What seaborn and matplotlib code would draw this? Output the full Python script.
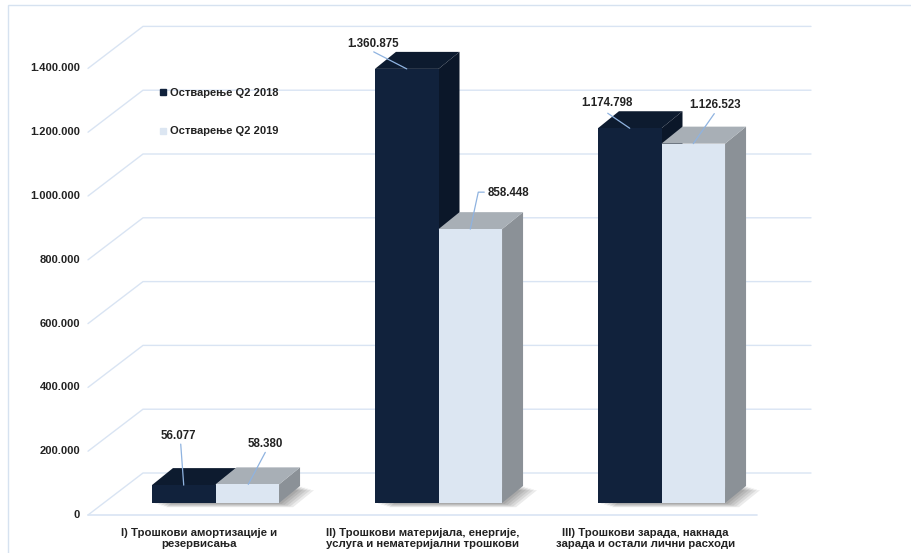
import pandas as pd
import matplotlib
matplotlib.use("Agg")
import matplotlib.pyplot as plt
import seaborn as sns
from matplotlib.patches import Polygon, Rectangle
from matplotlib.lines import Line2D

categories = [
    "I) Трошкови амортизације и\nрезервисања",
    "II) Трошкови материјала, енергије,\nуслуга и нематеријални трошкови",
    "III) Трошкови зарада, накнада\nзарада и остали лични расходи",
]
series = ["Остварење Q2 2018", "Остварење Q2 2019"]
q2_2018 = [56077, 1360875, 1174798]
q2_2019 = [58380, 858448, 1126523]
tick_values = [0, 200000, 400000, 600000, 800000, 1000000, 1200000, 1400000]
tick_labels = ["0", "200.000", "400.000", "600.000", "800.000",
               "1.000.000", "1.200.000", "1.400.000"]

# label placement (pixels, relative to top centre of bar front face)
label_offsets = [[(-5, 49), (18, 40)], [(-34, 25), (38, 36)], [(-23, 25), (22, 39)]]
leader_offsets = [[[(-3, 41), (0, 0)], [(18, 32), (1, 0)]],
                  [[(-33, 17), (0, 0)], [(14, 37), (8, 37), (0, 0)]],
                  [[(-22, 15), (0, 0)], [(21, 30), (0, 0)]]]

# colours: front, side, top
dark = ["#11223c", "#0b1729", "#0d1b2f"]
light = ["#dce6f2", "#8b9197", "#a8afb6"]
grid_col = "#d9e4f3"
leader_col = "#8fb3e0"
txt_col = "#222222"

# pixel geometry of the fake 3D view
W_PX, H_PX = 912, 553
PX_X = 223.0          # px per category step
PX_V = 3.19e-4        # px per value unit
X0_PX, Y0_PX = 215.5, 503.0


def to_x(px):
    return (px - X0_PX) / PX_X


def to_y(py):
    return (Y0_PX - py) / PX_V


def ox(dpx):
    return dpx / PX_X


def oy(dpx):
    return dpx / PX_V


df = pd.DataFrame({
    "category": categories * 2,
    "series": [series[0]] * 3 + [series[1]] * 3,
    "value": q2_2018 + q2_2019,
})

sns.set_style("white")
plt.rcParams["font.family"] = ["Liberation Sans", "DejaVu Sans"]

fig = plt.figure(figsize=(W_PX / 100, H_PX / 100), dpi=100)
ax = fig.add_axes([0, 0, 1, 1])
sns.barplot(data=df, x="category", y="value", hue="series", order=categories,
            hue_order=series, palette=[dark[0], light[0]], width=0.57,
            saturation=1, errorbar=None, edgecolor="none", legend=False, ax=ax)
ax.set_xlim(to_x(0), to_x(W_PX))
ax.set_ylim(to_y(H_PX), to_y(0))
ax.axis("off")

# depth offsets
dxf, dyf = ox(-16), oy(-12)     # front plane of floor/wall
dxb, dyb = ox(39), oy(30)       # back wall
dxd, dyd = ox(21), oy(17)       # bar depth

# grid on the wall
x_fl = to_x(88)
x_br = to_x(811)
for v, lab in zip(tick_values, tick_labels):
    ax.plot([x_fl, x_fl + ox(55), x_br], [v + dyf, v + dyb, v + dyb],
            color=grid_col, lw=1, zorder=1)
    ax.text(to_x(80), v + dyf, lab, ha="right", va="center", fontsize=8,
            fontweight="bold", color=txt_col)
ax.plot([x_fl, to_x(757)], [dyf, dyf], color=grid_col, lw=1.2, zorder=1)

# 3D faces for each bar
for j, cont in enumerate(ax.containers):
    cols = dark if j == 0 else light
    for i, bar in enumerate(cont):
        x0, w, h = bar.get_x(), bar.get_width(), bar.get_height()
        z = 2 + j
        bar.set_zorder(z + 0.5)
        side = [(x0 + w, 0), (x0 + w + dxd, dyd), (x0 + w + dxd, h + dyd), (x0 + w, h)]
        top = [(x0, h), (x0 + dxd, h + dyd), (x0 + w + dxd, h + dyd), (x0 + w, h)]
        ax.add_patch(Polygon(side, closed=True, fc=cols[1], ec="none", zorder=z + 0.3))
        ax.add_patch(Polygon(top, closed=True, fc=cols[2], ec="none", zorder=z + 0.3))
        if j == 1:
            # soft shadow on the floor
            xl = ax.containers[0][i].get_x()
            xr = x0 + w
            for k in range(1, 6):
                s = 2.8 * k
                shadow = [(xl + ox(s), -oy(s * 0.3)), (xr + ox(s), -oy(s * 0.3)),
                          (xr + dxd + ox(s), dyd - oy(s * 0.3)),
                          (xl + dxd + ox(s), dyd - oy(s * 0.3))]
                ax.add_patch(Polygon(shadow, closed=True, fc="#000000", ec="none",
                                     alpha=0.08, zorder=1.5))
        # data label + leader line
        cx = x0 + w / 2
        lx, ly = label_offsets[i][j]
        ax.text(cx + ox(lx), h + oy(ly), f"{h:,.0f}".replace(",", "."),
                ha="center", va="center", fontsize=8.3, fontweight="bold",
                color=txt_col, zorder=6)
        pts = leader_offsets[i][j]
        ax.plot([cx + ox(p[0]) for p in pts], [h + oy(p[1]) for p in pts],
                color=leader_col, lw=0.9, zorder=5.5)

# category labels on the front edge
for i, cat in enumerate(categories):
    ax.text(i + dxf, to_y(538.5), cat, ha="center", va="center", fontsize=8.2,
            fontweight="bold", color=txt_col, linespacing=1.15)

# legend
handles = [Line2D([], [], marker="s", ls="", color=c, markersize=4.5)
           for c in (dark[0], light[0])]
ax.legend(handles, series, loc="upper left", frameon=False,
          bbox_to_anchor=(155 / W_PX, 1 - 82 / H_PX), borderpad=0,
          handlelength=0.5, handletextpad=0.35, labelspacing=2.6,
          prop={"size": 8, "weight": "bold"}, labelcolor=txt_col)

# chart border
ax.add_patch(Rectangle((8 / W_PX, -0.1), 1.2, 1.1 - 5 / H_PX, transform=ax.transAxes,
                       fill=False, ec="#d6e2f0", lw=1, clip_on=False))

fig.savefig("out.png", dpi=100)
